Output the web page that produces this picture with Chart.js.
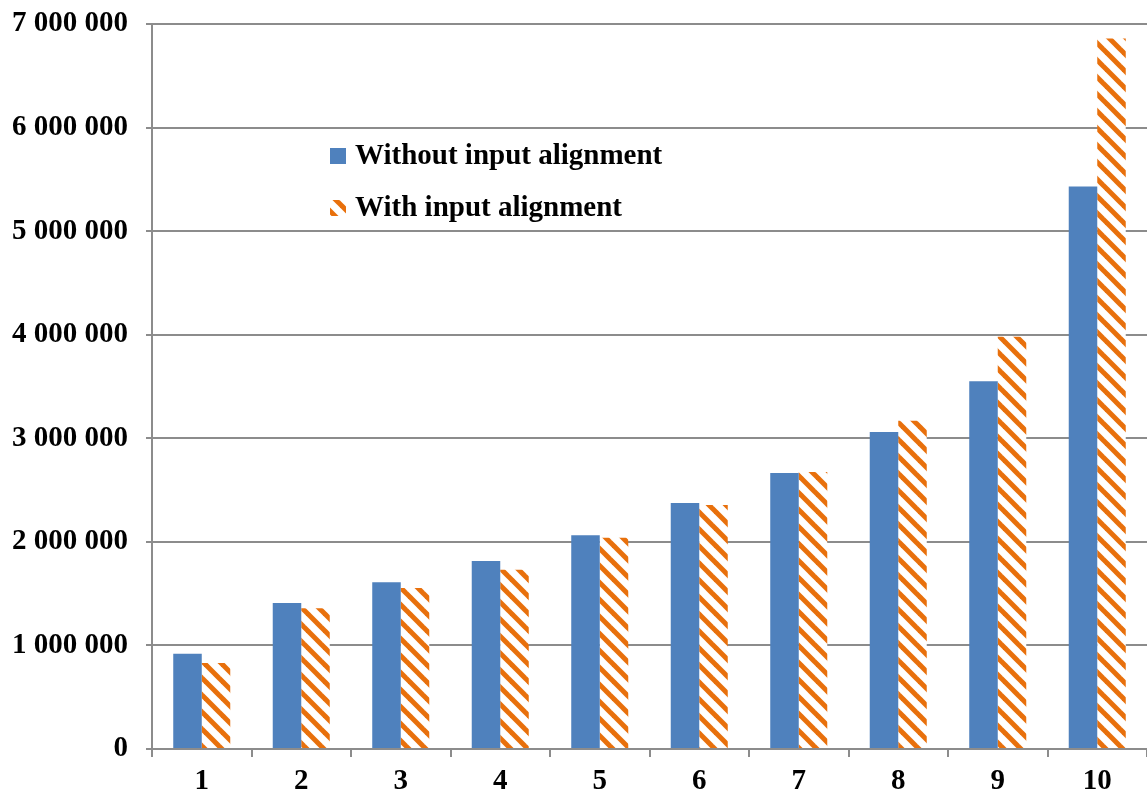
<!DOCTYPE html>
<html>
<head>
<meta charset="utf-8">
<script src="https://cdn.jsdelivr.net/npm/chart.js@4/dist/chart.umd.min.js"></script>
<style>
  html, body { margin: 0; padding: 0; background: #ffffff; }
  #wrap { width: 1147px; height: 795px; }
</style>
</head>
<body>
<div id="wrap"><canvas id="c" width="1147" height="795"></canvas></div>
<script>
// Categories and series
const categories = ['1', '2', '3', '4', '5', '6', '7', '8', '9', '10'];
const withoutAlignment = [920000, 1410000, 1610000, 1815000, 2065000, 2375000, 2665000, 3060000, 3550000, 5430000];
const withAlignment = [830000, 1360000, 1555000, 1730000, 2040000, 2355000, 2675000, 3170000, 3980000, 6860000];
const seriesNames = ['Without input alignment', 'With input alignment'];

const BLUE = '#4F81BD';
const ORANGE = '#E8700C';
const GRID = '#8C8C8C';
const FONT = { family: '"Liberation Serif", "Times New Roman", serif', size: 29, weight: 'bold' };

// Downward diagonal hatch fill
function makeHatch() {
  const p = 17;
  const c = document.createElement('canvas');
  c.width = p; c.height = p;
  const g = c.getContext('2d');
  g.fillStyle = '#ffffff';
  g.fillRect(0, 0, p, p);
  g.strokeStyle = ORANGE;
  g.lineWidth = 5;
  for (let k = -1; k <= 1; k++) {
    g.beginPath();
    g.moveTo(k * p - 3, -3);
    g.lineTo(k * p + p + 3, p + 3);
    g.stroke();
  }
  return document.getElementById('c').getContext('2d').createPattern(c, 'repeat');
}
const hatch = makeHatch();

function fmt(v) {
  return String(v).replace(/\B(?=(\d{3})+(?!\d))/g, ' ');
}

// Legend drawn inside the plot area
const insideLegend = {
  id: 'insideLegend',
  afterDraw(chart) {
    const ctx = chart.ctx;
    ctx.save();
    ctx.font = `${FONT.weight} ${FONT.size}px ${FONT.family}`;
    ctx.textBaseline = 'middle';
    ctx.textAlign = 'left';
    ctx.fillStyle = BLUE;
    ctx.fillRect(330, 148, 16, 16);
    ctx.fillStyle = hatch;
    ctx.fillRect(330, 200, 16, 16);
    ctx.fillStyle = '#000000';
    ctx.fillText(seriesNames[0], 355, 157);
    ctx.fillText(seriesNames[1], 355, 209);
    ctx.restore();
  }
};

new Chart(document.getElementById('c'), {
  type: 'bar',
  data: {
    labels: categories,
    datasets: [
      { label: seriesNames[0], data: withoutAlignment, backgroundColor: BLUE, borderWidth: 0,
        categoryPercentage: 0.573, barPercentage: 1.0 },
      { label: seriesNames[1], data: withAlignment, backgroundColor: hatch, borderWidth: 0,
        categoryPercentage: 0.573, barPercentage: 1.0 }
    ]
  },
  options: {
    responsive: false,
    animation: false,
    devicePixelRatio: 1,
    layout: { padding: { top: 24, right: 0, left: 0, bottom: 0 } },
    plugins: { legend: { display: false }, tooltip: { enabled: false }, title: { display: false } },
    scales: {
      x: {
        grid: { display: true, drawOnChartArea: false, drawTicks: true, tickLength: 8, color: GRID, lineWidth: 2, offset: true },
        border: { display: true, color: GRID, width: 2 },
        ticks: { color: '#000000', font: FONT, padding: 7, maxRotation: 0 },
        afterFit(s) { s.height = 46; s.paddingLeft = 0; s.paddingRight = 0; }
      },
      y: {
        min: 0, max: 7000000,
        grid: { color: GRID, lineWidth: 2, drawTicks: true, tickLength: 6 },
        border: { display: true, color: GRID, width: 2 },
        ticks: { stepSize: 1000000, color: '#000000', font: FONT, padding: 18, callback: (v) => fmt(v) },
        afterFit(s) { s.width = 152; s.paddingTop = 0; s.paddingBottom = 0; }
      }
    }
  },
  plugins: [insideLegend]
});
</script>
</body>
</html>
